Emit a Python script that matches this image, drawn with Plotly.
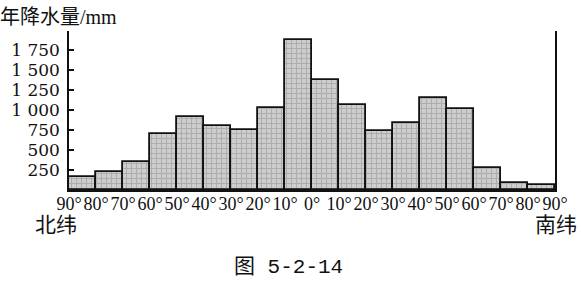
import plotly.graph_objects as go

# Latitude bands from 90°N to 90°S, 10° each
bands = ["90-80N", "80-70N", "70-60N", "60-50N", "50-40N", "40-30N", "30-20N", "20-10N", "10-0N",
         "0-10S", "10-20S", "20-30S", "30-40S", "40-50S", "50-60S", "60-70S", "70-80S", "80-90S"]
precip = [160, 220, 350, 700, 910, 800, 750, 1020, 1870,
          1370, 1060, 740, 840, 1150, 1010, 280, 90, 60]
x_tick_labels = ["90°", "80°", "70°", "60°", "50°", "40°", "30°", "20°", "10°", "0°",
                 "10°", "20°", "30°", "40°", "50°", "60°", "70°", "80°", "90°"]
y_tick_vals = [250, 500, 750, 1000, 1250, 1500, 1750]
y_tick_text = ["250", "500", "750", "1 000", "1 250", "1 500", "1 750"]

centers = [i + 0.5 for i in range(len(precip))]

serif = "Liberation Serif, Noto Sans CJK SC, serif"
yserif = "DejaVu Serif, serif"
cjk = "Liberation Serif, Noto Sans CJK SC, sans-serif"
caption_font = "Liberation Mono, Noto Sans CJK SC, monospace"

fig = go.Figure()
fig.add_trace(go.Bar(
    x=centers, y=precip, width=1, customdata=bands,
    marker=dict(
        color="#cccccc",
        line=dict(color="#111111", width=1.8),
        pattern=dict(shape="+", size=5, solidity=0.35, fgcolor="#8c8c8c", bgcolor="#cdcdcd"),
    ),
    showlegend=False,
))

fig.update_layout(
    width=581, height=283,
    margin=dict(l=69, r=26, t=31, b=93),
    paper_bgcolor="white", plot_bgcolor="white",
    bargap=0,
    font=dict(family=serif, color="#111111"),
)
fig.update_xaxes(
    range=[0, 18],
    tickmode="array", tickvals=list(range(19)), ticktext=x_tick_labels,
    tickangle=0, ticks="", showgrid=False, zeroline=False,
    showline=True, linecolor="#111111", linewidth=2,
    tickfont=dict(family=serif, size=18, color="#111111"),
    ticklabelstandoff=-4,
    fixedrange=True,
)
fig.update_yaxes(
    range=[0, 1987.5],
    tickmode="array", tickvals=y_tick_vals, ticktext=y_tick_text,
    ticks="inside", ticklen=5, tickwidth=1.5, tickcolor="#111111",
    showgrid=False, zeroline=False,
    showline=True, linecolor="#111111", linewidth=1.5, mirror=True,
    tickfont=dict(family=yserif, size=17, color="#111111"),
    ticklabelstandoff=4,
)

ann = [
    dict(text="年降水量/mm", x=-2, y=17, xanchor="left", size=20, family=cjk),
    dict(text="北纬", x=56, y=225, xanchor="center", size=21, family=cjk),
    dict(text="南纬", x=556, y=225, xanchor="center", size=21, family=cjk),
    dict(text="图 5-2-14", x=288, y=267, xanchor="center", size=21, family=caption_font),
]
for a in ann:
    fig.add_annotation(
        text=a["text"], xref="paper", yref="paper",
        x=(a["x"] - 69) / (581 - 69 - 26), y=1 - (a["y"] - 31) / (283 - 31 - 93),
        xanchor=a["xanchor"], yanchor="middle", showarrow=False,
        font=dict(family=a["family"], size=a["size"], color="#111111"),
    )

fig.write_html("out.html")
